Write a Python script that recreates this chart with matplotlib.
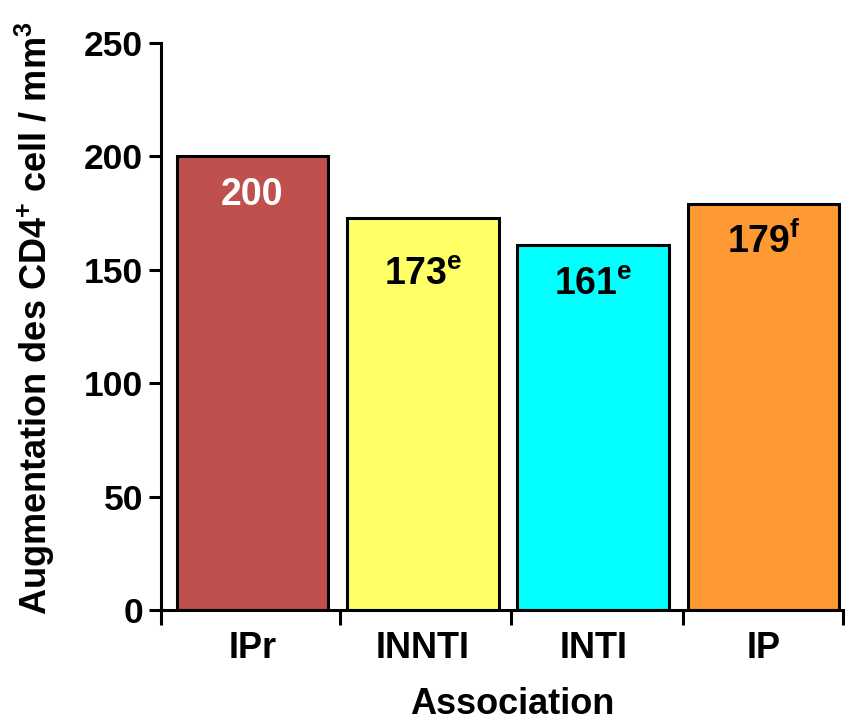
import numpy as np
import matplotlib
matplotlib.use('Agg')
import matplotlib.pyplot as plt

plt.rcParams['font.family'] = ['Liberation Sans', 'DejaVu Sans']
plt.rcParams['font.weight'] = 'bold'
plt.rcParams['mathtext.fontset'] = 'custom'
plt.rcParams['mathtext.rm'] = 'Liberation Sans:bold'
plt.rcParams['mathtext.bf'] = 'Liberation Sans:bold'
plt.rcParams['mathtext.it'] = 'Liberation Sans:bold'

# données : augmentation moyenne des CD4 par association
groupes = ['IPr', 'INNTI', 'INTI', 'IP']
valeurs = [200, 173, 161, 179]
etiquettes = ['200', '173$^{\\mathrm{e}}$', '161$^{\\mathrm{e}}$', '179$^{\\mathrm{f}}$']
couleurs = ['#C0504D', '#FFFF66', '#00FFFF', '#FF9933']
couleurs_texte = ['white', 'black', 'black', 'black']
# ligne de base des étiquettes dans les barres
pos_etiquettes = [178.5, 143.3, 138.9, 157.4]
# séparations entre groupes sur l'axe x
separations = [-0.537, 0.512, 1.518, 2.528, 3.467]

fig = plt.figure(figsize=(8.48, 7.24), dpi=100)
ax = fig.add_axes([161/848, 1-610/724, (843-161)/848, (610-43)/724])

x = np.arange(len(groupes))
ax.bar(x, valeurs, width=0.89, color=couleurs, edgecolor='black', linewidth=2.2, zorder=2)

for i in range(len(groupes)):
    ax.text(x[i], pos_etiquettes[i], etiquettes[i], ha='center', va='baseline',
            fontsize=27, fontweight='bold', color=couleurs_texte[i], zorder=3)

ax.set_xlim(separations[0], separations[-1])
ax.set_ylim(0, 250)
ax.set_yticks([0, 50, 100, 150, 200, 250])
ax.set_xticks(x)
ax.set_xticklabels(groupes)
ax.set_xticks(separations, minor=True)

for s in ['top', 'right']:
    ax.spines[s].set_visible(False)
for s in ['left', 'bottom']:
    ax.spines[s].set_linewidth(2.2)

ax.tick_params(axis='x', which='major', length=0, pad=15, labelsize=26)
ax.tick_params(axis='x', which='minor', length=11, width=2.2, direction='out')
ax.tick_params(axis='y', length=9, width=2.2, pad=4, labelsize=25.5)
for lab in ax.get_xticklabels() + ax.get_yticklabels():
    lab.set_fontweight('bold')

fig.text(35/848, 1-318/724, 'Augmentation des CD4$^{+}$ cell / mm$^{3}$',
         rotation=90, ha='center', va='center', fontsize=26, fontweight='bold')
fig.text(512/848, 1-705/724, 'Association', ha='center', va='center',
         fontsize=26, fontweight='bold')

fig.savefig('out.png', dpi=100)
